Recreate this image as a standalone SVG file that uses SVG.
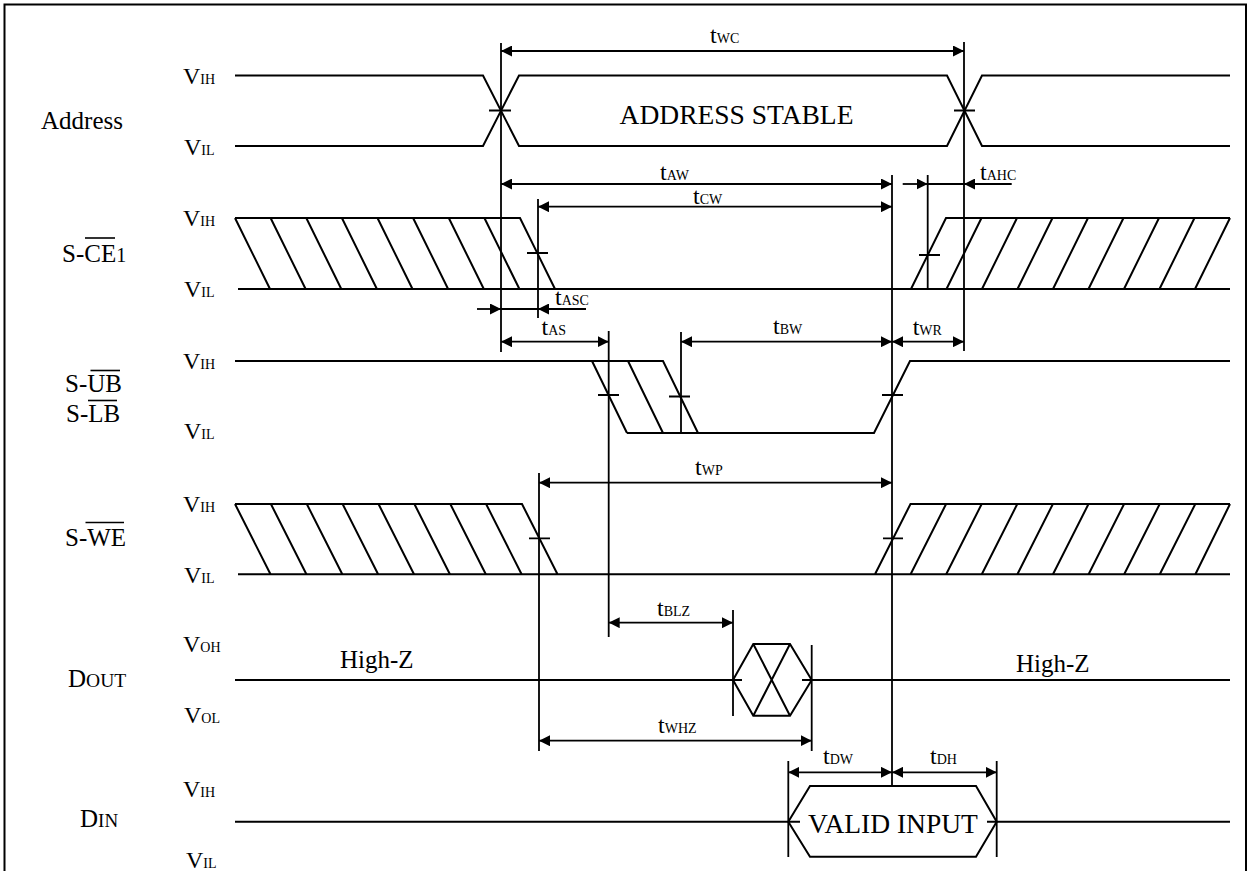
<svg xmlns="http://www.w3.org/2000/svg" width="1249" height="871" viewBox="0 0 1249 871">
<style>
.sig{fill:none;stroke:#000;stroke-width:2;stroke-linejoin:miter}
.dim{fill:none;stroke:#000;stroke-width:1.8}
.arr{fill:none;stroke:#000;stroke-width:1.8;marker-start:url(#ah);marker-end:url(#ah)}
.arr1{fill:none;stroke:#000;stroke-width:1.8;marker-end:url(#ah)}
.ob{stroke:#000;stroke-width:1.6}
text{font-family:"Liberation Serif","Times New Roman",serif;fill:#000}
.lbl{font-size:25px}
.v{font-size:24px}
.s{font-size:14px}
.big{font-size:27.5px}
</style>
<defs>
<marker id="ah" viewBox="0 0 10 10" refX="10" refY="5" markerWidth="11" markerHeight="11" markerUnits="userSpaceOnUse" orient="auto-start-reverse">
<path d="M0,0 L10,5 L0,10 z" fill="#000"/>
</marker>
</defs>
<rect width="1249" height="871" fill="#fff"/>
<path d="M4.5,880 V4.5 H1246 V880" fill="none" stroke="#000" stroke-width="2"/>

<g id="levels">
<text class="v" x="183" y="84">V<tspan class="s">IH</tspan></text>
<text class="v" x="184" y="155">V<tspan class="s">IL</tspan></text>
<text class="v" x="183" y="226">V<tspan class="s">IH</tspan></text>
<text class="v" x="184" y="297">V<tspan class="s">IL</tspan></text>
<text class="v" x="183" y="369">V<tspan class="s">IH</tspan></text>
<text class="v" x="184" y="439">V<tspan class="s">IL</tspan></text>
<text class="v" x="183" y="512">V<tspan class="s">IH</tspan></text>
<text class="v" x="184" y="583">V<tspan class="s">IL</tspan></text>
<text class="v" x="183" y="652">V<tspan class="s">OH</tspan></text>
<text class="v" x="184" y="723">V<tspan class="s">OL</tspan></text>
<text class="v" x="183" y="797">V<tspan class="s">IH</tspan></text>
<text class="v" x="186" y="868">V<tspan class="s">IL</tspan></text>
</g>

<g id="address">
<text class="lbl" x="41" y="129">Address</text>
<path class="sig" d="M235,75.5 H483 L519,146 H947 L982,75.5 H1230 M235,146 H483 L519,75.5 H947 L982,146 H1230"/>
<path class="dim" d="M489,110.5 H511 M954,110.5 H975"/>
<text class="big" x="736.5" y="124" text-anchor="middle">ADDRESS STABLE</text>
</g>

<g id="ce1">
<text class="lbl" x="62" y="262">S-CE<tspan font-size="20">1</tspan></text>
<line class="ob" x1="85" y1="238" x2="115" y2="238"/>
<path class="sig" d="M235,218 H520 L555,289 M238,289 H1230 M911,289 L946,218 H1230"/>
<path class="sig" d="M235,218 L270,289 M270.6,218 L305.6,289 M306.3,218 L341.3,289 M341.9,218 L376.9,289 M377.5,218 L412.5,289 M413.1,218 L448.1,289 M448.8,218 L483.8,289 M484.4,218 L519.4,289"/>
<path class="sig" d="M946.5,289 L981.5,218 M982,289 L1017,218 M1017.5,289 L1052.5,218 M1053,289 L1088,218 M1088.5,289 L1123.5,218 M1124,289 L1159,218 M1159.5,289 L1194.5,218 M1195,289 L1230,218"/>
<path class="dim" d="M527,253 H548 M919,255 H940"/>
</g>

<g id="ublb">
<text class="lbl" x="65" y="392">S-UB</text>
<line class="ob" x1="90.5" y1="370.5" x2="120" y2="370.5"/>
<text class="lbl" x="66" y="422">S-LB</text>
<line class="ob" x1="88" y1="400.5" x2="117" y2="400.5"/>
<path class="sig" d="M235,361 H663 L698,433 M592,361 L627,433 M628,361 L663,433 M627,433 H874 L910,361 H1230"/>
<path class="dim" d="M598,395 H619 M669,396.5 H690 M882,395 H903"/>
</g>

<g id="we">
<text class="lbl" x="65" y="546">S-WE</text>
<line class="ob" x1="85.5" y1="522.5" x2="124" y2="522.5"/>
<path class="sig" d="M235,504 H522 L557.5,574.3 M238,574.3 H1230 M875,574.3 L910.5,504 H1230"/>
<path class="sig" d="M235,504 L270.5,574.3 M270.9,504 L306.4,574.3 M306.8,504 L342.3,574.3 M342.6,504 L378.1,574.3 M378.5,504 L414,574.3 M414.4,504 L449.9,574.3 M450.3,504 L485.8,574.3 M486.1,504 L521.6,574.3"/>
<path class="sig" d="M910.6,574.3 L946.1,504 M946.2,574.3 L981.7,504 M981.8,574.3 L1017.3,504 M1017.4,574.3 L1052.9,504 M1053,574.3 L1088.5,504 M1088.6,574.3 L1124.1,504 M1124.2,574.3 L1159.7,504 M1159.8,574.3 L1195.3,504 M1195.4,574.3 L1230,504"/>
<path class="dim" d="M529,538.3 H550 M883,538.3 H903"/>
</g>

<g id="dout">
<text class="lbl" x="68" y="687">D<tspan font-size="19.5">OUT</tspan></text>
<path class="sig" d="M235,680 H742 M802,680 H1230"/>
<path class="sig" d="M733,680 L753.3,644 H790 L811.7,680 L790,715.7 H753.3 Z M753.3,644 L790,715.7 M790,644 L753.3,715.7"/>
<text class="lbl" x="340" y="668">High-Z</text>
<text class="lbl" x="1016" y="672">High-Z</text>
</g>

<g id="din">
<text class="lbl" x="80" y="827">D<tspan font-size="19">IN</tspan></text>
<path class="sig" d="M235,821.7 H800 M987,821.7 H1230"/>
<path class="sig" d="M788.3,821.7 L810,786 H976 L996.7,821.7 L976,856.7 H810 Z"/>
<text class="big" x="893" y="833" text-anchor="middle">VALID INPUT</text>
</g>

<g id="connectors">
<path class="dim" d="M501,43 V352 M964,42 V351 M538,199 V318 M892,175 V786 M927.7,175 V289 M608.7,331 V637 M681,332 V433 M539,473 V751 M733,610 V716 M811.7,645 V751 M788.3,761 V857 M996.7,761 V857"/>
<line class="arr" x1="501" y1="51" x2="964" y2="51"/>
<line class="arr" x1="501" y1="184" x2="892" y2="184"/>
<line class="arr" x1="538" y1="206.7" x2="892" y2="206.7"/>
<line class="arr1" x1="902.7" y1="184" x2="927.7" y2="184"/>
<line class="dim" x1="927.7" y1="184" x2="964" y2="184"/>
<line class="arr1" x1="1011.7" y1="184" x2="964" y2="184"/>
<line class="arr1" x1="477" y1="309" x2="501" y2="309"/>
<line class="dim" x1="501" y1="309" x2="538" y2="309"/>
<line class="arr1" x1="586" y1="309" x2="538" y2="309"/>
<line class="arr" x1="501" y1="341.7" x2="608.7" y2="341.7"/>
<line class="arr" x1="681" y1="341.7" x2="892" y2="341.7"/>
<line class="arr" x1="892" y1="341.7" x2="964" y2="341.7"/>
<line class="arr" x1="539" y1="482.7" x2="892" y2="482.7"/>
<line class="arr" x1="608.7" y1="622.7" x2="733" y2="622.7"/>
<line class="arr" x1="539" y1="740.7" x2="811.7" y2="740.7"/>
<line class="arr" x1="788.3" y1="772.3" x2="892" y2="772.3"/>
<line class="arr" x1="892" y1="772.3" x2="996.7" y2="772.3"/>
</g>

<g id="timing-labels">
<text class="v" x="710" y="43">t<tspan class="s">WC</tspan></text>
<text class="v" x="660" y="180">t<tspan class="s">AW</tspan></text>
<text class="v" x="693" y="204">t<tspan class="s">CW</tspan></text>
<text class="v" x="980" y="180">t<tspan class="s">AHC</tspan></text>
<text class="v" x="555" y="305">t<tspan class="s">ASC</tspan></text>
<text class="v" x="541.5" y="335">t<tspan class="s">AS</tspan></text>
<text class="v" x="773" y="334">t<tspan class="s">BW</tspan></text>
<text class="v" x="912.7" y="335">t<tspan class="s">WR</tspan></text>
<text class="v" x="695" y="475">t<tspan class="s">WP</tspan></text>
<text class="v" x="657" y="616">t<tspan class="s">BLZ</tspan></text>
<text class="v" x="658" y="732.7">t<tspan class="s">WHZ</tspan></text>
<text class="v" x="823" y="764">t<tspan class="s">DW</tspan></text>
<text class="v" x="930" y="764">t<tspan class="s">DH</tspan></text>
</g>
</svg>
